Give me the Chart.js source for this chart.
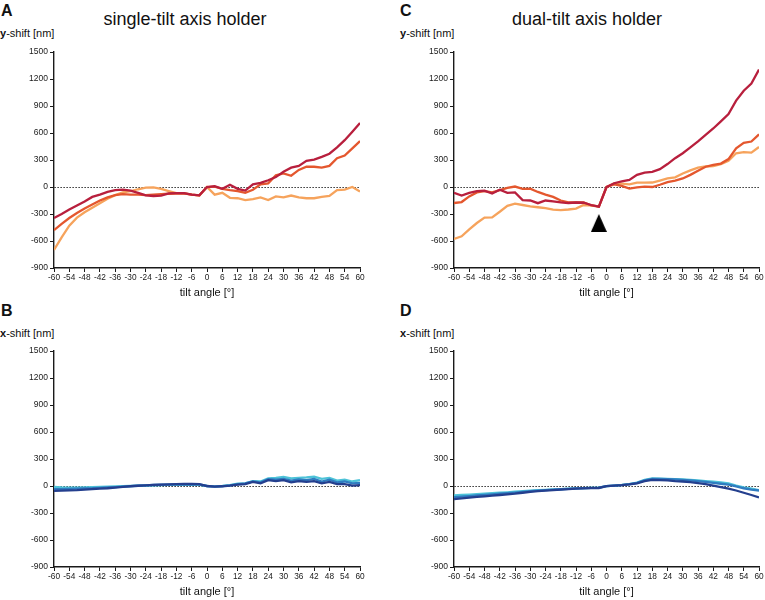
<!DOCTYPE html>
<html>
<head>
<meta charset="utf-8">
<script src="https://cdn.jsdelivr.net/npm/chart.js@4.4.1/dist/chart.umd.min.js"></script>
<style>
  body { margin: 0; width: 765px; height: 600px; background: #fff; position: relative; overflow: hidden;
         font-family: "Liberation Sans", Arial, sans-serif; color: #111; }
  .lbl { position: absolute; line-height: 1; white-space: nowrap; }
  .letter { font-size: 16px; font-weight: bold; }
  .title { font-size: 18px; transform: translateX(-50%); }
  .ylab { font-size: 11px; }
  canvas { position: absolute; }
</style>
</head>
<body>
<div class="lbl letter" style="left:1px;top:3px">A</div>
<div class="lbl letter" style="left:400px;top:3px">C</div>
<div class="lbl letter" style="left:1px;top:303px">B</div>
<div class="lbl letter" style="left:400px;top:303px">D</div>
<div class="lbl title" style="left:185px;top:10px">single-tilt axis holder</div>
<div class="lbl title" style="left:587px;top:10px">dual-tilt axis holder</div>
<div class="lbl ylab" style="left:0px;top:28px"><b>y</b>-shift [nm]</div>
<div class="lbl ylab" style="left:400px;top:28px"><b>y</b>-shift [nm]</div>
<div class="lbl ylab" style="left:0px;top:328px"><b>x</b>-shift [nm]</div>
<div class="lbl ylab" style="left:400px;top:328px"><b>x</b>-shift [nm]</div>

<canvas id="chartA" width="372" height="256" style="left:0px;top:44px"></canvas>
<canvas id="chartC" width="365" height="256" style="left:400px;top:44px"></canvas>
<canvas id="chartB" width="372" height="256" style="left:0px;top:343px"></canvas>
<canvas id="chartD" width="365" height="256" style="left:400px;top:343px"></canvas>

<script>
// tilt angles, every 3 degrees
const angles = [-60,-57,-54,-51,-48,-45,-42,-39,-36,-33,-30,-27,-24,-21,-18,-15,-12,-9,-6,-3,
                0,3,6,9,12,15,18,21,24,27,30,33,36,39,42,45,48,51,54,57,60];

// A: single-tilt, y-shift
const aCrimson = [-345,-300,-250,-205,-160,-110,-85,-55,-35,-30,-40,-65,-92,-100,-95,-70,-68,-67,-85,-93,
                  0,10,-20,25,-20,-40,30,45,75,110,170,215,235,290,305,335,370,440,520,615,710];
const aRed     = [-480,-410,-345,-290,-240,-195,-150,-115,-90,-80,-85,-85,-90,-85,-80,-75,-72,-70,-85,-92,
                  0,5,-20,-35,-45,-65,-30,30,40,130,150,125,190,225,225,215,235,320,350,430,510];
const aOrange  = [-700,-560,-430,-340,-280,-230,-180,-130,-90,-60,-45,-25,-8,-5,-20,-45,-68,-70,-85,-95,
                  0,-85,-65,-120,-125,-145,-135,-115,-145,-105,-115,-95,-115,-125,-125,-110,-100,-35,-30,0,-50];

// C: dual-tilt, y-shift
const cCrimson = [-65,-96,-65,-45,-40,-72,-30,-65,-60,-145,-150,-180,-150,-160,-170,-178,-172,-175,-200,-218,
                  0,42,62,78,135,160,168,198,255,320,375,440,508,580,650,730,810,960,1070,1150,1305];
const cRed     = [-178,-167,-104,-60,-45,-60,-35,-10,5,-20,-18,-55,-85,-110,-150,-172,-172,-170,-205,-220,
                  0,30,12,-18,-5,4,0,25,55,70,95,135,180,225,245,260,310,430,490,505,585];
const cOrange  = [-577,-548,-470,-400,-340,-337,-275,-210,-185,-200,-215,-225,-235,-252,-258,-250,-240,-200,-205,-215,
                  0,40,37,30,48,48,50,72,95,108,150,185,215,228,233,255,290,375,388,382,444];
// arrowhead in C
const markerC = [{ angle: -3, value: -400 }];

// B: single-tilt, x-shift
const bNavy = [-55,-52,-48,-45,-40,-35,-30,-25,-18,-10,-3,3,8,12,15,18,20,22,22,20,
               0,-8,-3,5,15,20,45,30,65,55,65,40,55,45,55,30,45,20,20,5,10];
const bBlue = [-35,-35,-33,-30,-28,-25,-20,-16,-12,-7,-1,4,8,11,14,16,18,19,19,17,
               0,-6,-1,8,22,28,52,40,75,70,80,60,72,65,78,50,70,40,50,30,35];
const bCyan = [-10,-15,-18,-18,-15,-12,-10,-8,-5,-2,0,3,5,8,10,12,14,14,15,12,
               0,-5,0,10,25,30,55,50,85,90,100,85,90,95,105,80,90,60,70,50,65];

// D: dual-tilt, x-shift
const dNavy = [-145,-138,-130,-122,-115,-108,-100,-92,-85,-75,-65,-58,-52,-46,-40,-35,-30,-27,-24,-22,
               -2,5,10,18,30,55,68,66,62,55,50,42,32,20,5,-12,-30,-50,-75,-100,-128];
const dBlue = [-125,-118,-112,-105,-98,-92,-86,-80,-73,-66,-58,-52,-46,-41,-36,-31,-27,-24,-21,-19,
               -2,5,10,20,35,62,80,78,75,72,68,62,55,45,35,25,15,-5,-25,-40,-50];
const dCyan = [-105,-100,-95,-90,-85,-80,-75,-70,-64,-58,-52,-47,-42,-38,-34,-30,-26,-23,-20,-18,
               -2,5,12,22,38,68,85,82,80,77,74,68,62,55,48,40,30,5,-15,-30,-45];

const yTicksMin = -900, yTicksMax = 1500, yStep = 300;
const xTicksMin = -60, xTicksMax = 60, xStep = 6;

const FONT = '"Liberation Sans", Arial, sans-serif';
const CRIMSON = '#b81f3d', RED = '#e4572e', ORANGE = '#f6a35c';
const NAVY = '#243f8e', BLUE = '#2f7cc0', CYAN = '#4ec3d8';

Chart.defaults.font.family = FONT;

function pts(vals) {
  return vals.map((v, i) => ({ x: angles[i], y: v }));
}

function line(vals, color) {
  return { data: pts(vals), borderColor: color, borderWidth: 2.3, pointRadius: 0, tension: 0, fill: false };
}

// black arrowhead drawn as a point image
const tri = document.createElement('canvas');
tri.width = 16; tri.height = 18;
const tc = tri.getContext('2d');
tc.fillStyle = '#000';
tc.beginPath(); tc.moveTo(8, 0); tc.lineTo(16, 18); tc.lineTo(0, 18); tc.closePath(); tc.fill();

function makePanel(id, datasets, rightPad) {
  return new Chart(document.getElementById(id), {
    type: 'line',
    data: { datasets: datasets },
    options: {
      responsive: false,
      animation: false,
      devicePixelRatio: 1,
      layout: { padding: { left: 0, top: 8, right: rightPad, bottom: 0 } },
      plugins: { legend: { display: false }, tooltip: { enabled: false } },
      scales: {
        x: {
          type: 'linear', min: xTicksMin, max: xTicksMax,
          afterFit: s => { s.height = 32; },
          ticks: { stepSize: xStep, autoSkip: false, maxRotation: 0, minRotation: 0,
                   color: '#1a1a1a', font: { size: 8.3 }, padding: 1 },
          grid: { drawOnChartArea: false, tickColor: '#1a1a1a', tickLength: 4 },
          border: { color: '#1a1a1a', width: 1.4 },
          title: { display: true, text: 'tilt angle [°]', color: '#111', font: { size: 11 }, padding: 0 }
        },
        y: {
          type: 'linear', min: yTicksMin, max: yTicksMax,
          afterFit: s => { s.width = 54; },
          ticks: { stepSize: yStep, color: '#1a1a1a', font: { size: 8.5 }, padding: 2, callback: v => String(v) },
          grid: {
            color: c => (c.tick && c.tick.value === 0) ? '#333' : 'rgba(0,0,0,0)',
            lineWidth: 1, tickColor: '#1a1a1a', tickLength: 4
          },
          border: { color: '#1a1a1a', width: 1.4, dash: [1.5, 1.5] }
        }
      }
    }
  });
}

makePanel('chartA', [line(aCrimson, CRIMSON), line(aRed, RED), line(aOrange, ORANGE)], 12);

makePanel('chartC', [
  {
    data: markerC.map(m => ({ x: m.angle, y: m.value })),
    showLine: false, pointStyle: tri, pointRadius: 5
  },
  line(cCrimson, CRIMSON), line(cRed, RED), line(cOrange, ORANGE)
], 5);

makePanel('chartB', [line(bNavy, NAVY), line(bBlue, BLUE), line(bCyan, CYAN)], 12);
makePanel('chartD', [line(dNavy, NAVY), line(dBlue, BLUE), line(dCyan, CYAN)], 6);
</script>
</body>
</html>
